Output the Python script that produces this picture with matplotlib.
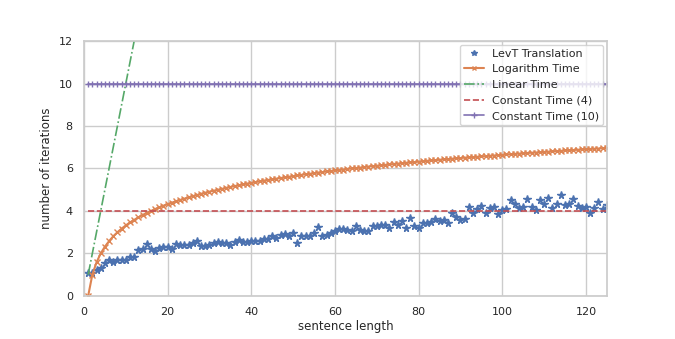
import matplotlib
matplotlib.use("Agg")
import matplotlib.pyplot as plt
import seaborn as sns
import numpy as np

sns.set_theme(style="whitegrid", palette="deep")
plt.rcParams['font.family'] = ['DejaVu Sans']

# sentence lengths 1..125
lengths = list(range(1, 126))

# LevT iterations
levt = [1.07, 1.1, 1.2, 1.3, 1.55, 1.67, 1.6, 1.67, 1.67, 1.67,
        1.82, 1.82, 2.14, 2.2, 2.45, 2.2, 2.1, 2.24, 2.3, 2.3,
        2.2, 2.45, 2.4, 2.4, 2.4, 2.5, 2.58, 2.37, 2.33, 2.4,
        2.5, 2.55, 2.5, 2.5, 2.4, 2.55, 2.63, 2.55, 2.53, 2.58,
        2.58, 2.58, 2.7, 2.67, 2.8, 2.75, 2.86, 2.9, 2.8, 2.97,
        2.5, 2.8, 2.8, 2.8, 2.97, 3.25, 2.8, 2.86, 2.97, 3.05,
        3.16, 3.13, 3.1, 3.06, 3.3, 3.1, 3.08, 3.08, 3.27, 3.3,
        3.35, 3.35, 3.22, 3.5, 3.35, 3.53, 3.22, 3.66, 3.3, 3.2,
        3.43, 3.43, 3.46, 3.62, 3.55, 3.58, 3.43, 3.9, 3.72, 3.58,
        3.63, 4.18, 3.9, 4.08, 4.23, 3.89, 4.12, 4.2, 3.84, 4.04,
        4.08, 4.5, 4.35, 4.12, 4.2, 4.57, 4.17, 4.04, 4.52, 4.33,
        4.6, 4.12, 4.35, 4.77, 4.3, 4.33, 4.57, 4.23, 4.15, 4.2,
        3.92, 4.15, 4.4, 4.1, 4.3]

log_time = [0.0, 1.0, 1.58, 2.0, 2.32, 2.58, 2.81, 3.0, 3.17, 3.32,
            3.46, 3.58, 3.7, 3.81, 3.91, 4.0, 4.09, 4.17, 4.25, 4.32,
            4.39, 4.46, 4.52, 4.58, 4.64, 4.7, 4.75, 4.81, 4.86, 4.91,
            4.95, 5.0, 5.04, 5.09, 5.13, 5.17, 5.21, 5.25, 5.29, 5.32,
            5.36, 5.39, 5.43, 5.46, 5.49, 5.52, 5.55, 5.58, 5.61, 5.64,
            5.67, 5.7, 5.73, 5.75, 5.78, 5.81, 5.83, 5.86, 5.88, 5.91,
            5.93, 5.95, 5.98, 6.0, 6.02, 6.04, 6.07, 6.09, 6.11, 6.13,
            6.15, 6.17, 6.19, 6.21, 6.23, 6.25, 6.27, 6.29, 6.3, 6.32,
            6.34, 6.36, 6.38, 6.39, 6.41, 6.43, 6.44, 6.46, 6.48, 6.49,
            6.51, 6.52, 6.54, 6.55, 6.57, 6.58, 6.6, 6.61, 6.63, 6.64,
            6.66, 6.67, 6.69, 6.7, 6.71, 6.73, 6.74, 6.75, 6.77, 6.78,
            6.79, 6.81, 6.82, 6.83, 6.85, 6.86, 6.87, 6.88, 6.9, 6.91,
            6.92, 6.93, 6.94, 6.95, 6.97]

linear_x = [1, 2, 3, 4, 5, 6, 7, 8, 9, 10, 11, 12]
linear_y = [1, 2, 3, 4, 5, 6, 7, 8, 9, 10, 11, 12]

const4 = [4] * len(lengths)
const10 = [10] * len(lengths)

fig = plt.figure(figsize=(6.75, 3.39), dpi=100)
ax = fig.add_axes([0.1244, 0.127, 0.7746, 0.752])

ax.plot(lengths, levt, '*', color='C0', markersize=5.5, label='LevT Translation')
ax.plot(lengths, log_time, 'x-', color='C1', markersize=4, linewidth=1.5,
        label='Logarithm Time')
ax.plot(linear_x, linear_y, '-.', color='C2', linewidth=1.2, label='Linear Time')
ax.plot(lengths, const4, '--', color='C3', linewidth=1.2, label='Constant Time (4)')
ax.plot(lengths, const10, '+-', color='C4', markersize=5, linewidth=1.2,
        label='Constant Time (10)')

ax.set_xlim(0, 125)
ax.set_ylim(0, 12)
ax.set_xticks([0, 20, 40, 60, 80, 100, 120])
ax.set_yticks([0, 2, 4, 6, 8, 10, 12])
ax.tick_params(labelsize=8, pad=2)
ax.set_xlabel('sentence length', fontsize=8.5, labelpad=2)
ax.set_ylabel('number of iterations', fontsize=8.5, labelpad=4)

ax.legend(loc='upper right', fontsize=8, borderpad=0.35, labelspacing=0.5,
          handlelength=1.8, handletextpad=0.7, markerscale=0.8,
          borderaxespad=0.35, framealpha=0.8)

fig.savefig('out.png', dpi=100)
